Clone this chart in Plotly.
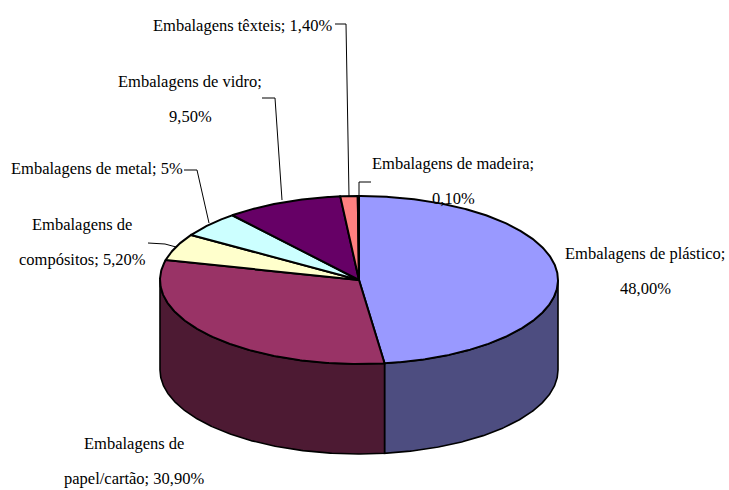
import numpy as np
import plotly.graph_objects as go

# slices, clockwise from 12 o'clock
categories = ["Embalagens de plástico", "Embalagens de papel/cartão", "Embalagens de compósitos",
              "Embalagens de metal", "Embalagens de vidro", "Embalagens têxteis", "Embalagens de madeira"]
values = [48.0, 30.9, 5.2, 5.0, 9.5, 1.4, 0.1]
top_colors = ["#9999ff", "#993366", "#ffffcc", "#ccffff", "#660066", "#ff8080", "#0066cc"]
side_colors = ["#4d4d80", "#4d1a33", "#80806a", "#6a8080", "#330033", "#804040", "#003366"]

label_lines = [
    ["Embalagens de plástico;", "48,00%"],
    ["Embalagens de", "papel/cartão; 30,90%"],
    ["Embalagens de", "compósitos; 5,20%"],
    ["Embalagens de metal; 5%"],
    ["Embalagens de vidro;", "9,50%"],
    ["Embalagens têxteis; 1,40%"],
    ["Embalagens de madeira;", "0,10%"],
]
label_centers = [(645, 253), (134, 443), (82, 224), (97, 168), (190, 81), (242, 25), (453, 163)]
line_gap = 35

# leader lines only where the label sits off the slice
leaders = [
    ([148, 165, 176], [243, 244, 247]),
    ([184, 197, 209], [170, 170, 223]),
    ([262, 275, 282], [98, 98, 200]),
    ([335, 346, 349], [24, 24, 196]),
    ([371, 359, 359], [182, 182, 196]),
]

cx, cy, rx, ry, depth = 359, 280, 199, 84, 90


def rim(a0, a1, dy=0):
    t = np.radians(np.linspace(a0, a1, max(int(abs(a1 - a0) * 2), 2)))
    return cx + rx * np.sin(t), cy + dy - ry * np.cos(t)


edges = np.concatenate([[0], np.cumsum(values)])
edges = edges / edges[-1] * 360

fig = go.Figure()

# front wall first, only the part of the rim facing the viewer
for i in range(len(values)):
    a0, a1 = max(edges[i], 90), min(edges[i + 1], 270)
    if a1 <= a0:
        continue
    xt, yt = rim(a0, a1)
    xb, yb = rim(a1, a0, depth)
    fig.add_trace(go.Scatter(x=np.r_[xt, xb, xt[0]], y=np.r_[yt, yb, yt[0]], mode="lines", fill="toself",
                             fillcolor=side_colors[i], line=dict(color="black", width=1.6), hoverinfo="skip"))

for i in range(len(values)):
    xs, ys = rim(edges[i], edges[i + 1])
    fig.add_trace(go.Scatter(x=np.r_[cx, xs, cx], y=np.r_[cy, ys, cy], mode="lines", fill="toself",
                             fillcolor=top_colors[i], line=dict(color="black", width=2), hoverinfo="skip"))

for lx, ly in leaders:
    fig.add_trace(go.Scatter(x=lx, y=ly, mode="lines", line=dict(color="black", width=1), hoverinfo="skip"))

for lines, (x0, y0) in zip(label_lines, label_centers):
    for k, txt in enumerate(lines):
        fig.add_annotation(x=x0, y=y0 + k * line_gap, text=txt, showarrow=False, xanchor="center", yanchor="middle",
                           font=dict(family="Liberation Serif", size=16.5, color="black"))

fig.update_layout(
    width=729, height=490, margin=dict(l=0, r=0, t=0, b=0), showlegend=False,
    paper_bgcolor="white", plot_bgcolor="white",
    xaxis=dict(range=[0, 729], visible=False, fixedrange=True),
    yaxis=dict(range=[490, 0], visible=False, fixedrange=True),
)

# page body has a default margin that pushes the chart off the window
fig.write_html("out.html", config=dict(displayModeBar=False),
               post_script="document.body.style.margin='0';document.body.style.overflow='hidden';")
